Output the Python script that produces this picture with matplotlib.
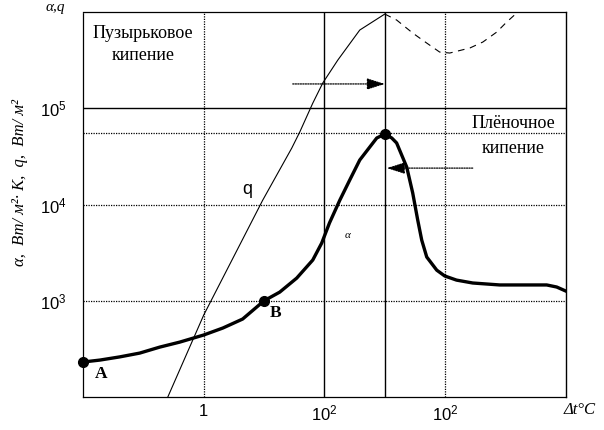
import matplotlib
matplotlib.use("Agg")
import matplotlib.pyplot as plt

# alpha curve (heat transfer coefficient)
alpha_dt = [0.1, 0.138, 0.201, 0.295, 0.432, 0.633, 1.0, 1.44, 2.10, 3.16, 4.26, 5.89,
            8.0, 9.49, 11.0, 13.4, 16.2, 19.6, 23.7, 27.1, 31.6, 36.1, 39.6, 48.0, 53.8,
            59.2, 63.9, 70.3, 85.1, 99.1, 124, 169, 283, 473, 693, 838, 1000]
alpha_val = [231, 242, 261, 286, 330, 372, 441, 521, 646, 1000, 1230, 1720,
             2650, 3980, 6430, 11100, 18000, 29000, 39500, 49100, 54000, 49100, 43600, 24500, 13200,
             6900, 4270, 2850, 2080, 1810, 1640, 1530, 1460, 1460, 1460, 1390, 1260]

# q curve, solid part (nucleate boiling)
q_dt = [0.504, 1.0, 3.08, 5.36, 6.24, 8.0, 9.68, 12.9, 19.6, 31.6]
q_val = [100, 711, 11100, 38600, 56600, 113000, 183000, 317000, 650000, 953000]

# q curve, dashed part (transition / film)
q2_dt = [31.6, 39.6, 53.8, 70.3, 89.9, 109, 160, 205, 267, 323, 391]
q2_val = [953000, 826000, 605000, 476000, 384000, 375000, 423000, 488000, 619000, 787000, 977000]

# marked points A, B and the crisis point
pts_dt = [0.1, 3.16, 31.6]
pts_val = [231, 1000, 54000]

xticks = [1, 10, 100]
xticklabels = ['1', r'$\mathregular{10^2}$', r'$\mathregular{10^2}$']
yticks = [1e3, 1e4, 1e5]
yticklabels = [r'$\mathregular{10^3}$', r'$\mathregular{10^4}$', r'$\mathregular{10^5}$']

plt.rcParams['font.family'] = ['Liberation Sans', 'DejaVu Sans']
serif = ['Liberation Serif', 'DejaVu Serif']

fig = plt.figure(figsize=(6.04, 4.30), dpi=100)
ax = fig.add_axes([0.1374, 0.0767, 0.937 - 0.1374, 0.972 - 0.0767])
ax.set_xscale('log')
ax.set_yscale('log')
ax.set_xlim(0.1, 1000)
ax.set_ylim(100, 1e6)

dots = (0, (1, 1))
for s in ['left', 'top', 'bottom']:
    ax.spines[s].set_linestyle(dots)
    ax.spines[s].set_linewidth(0.9)
ax.spines['right'].set_linewidth(1.0)

# grid
ax.axvline(1, color='k', lw=0.9, ls=dots)
ax.axvline(10, color='k', lw=1.0)
ax.axvline(31.6, color='k', lw=1.0)
ax.axvline(100, color='k', lw=0.9, ls=dots)
ax.axhline(1e3, color='k', lw=0.9, ls=dots)
ax.axhline(1e4, color='k', lw=0.9, ls=dots)
ax.axhline(1e5, color='k', lw=1.0)
ax.axhline(55300, color='k', lw=0.9, ls=dots)

ax.plot(q_dt, q_val, color='k', lw=0.8)
ax.plot(q2_dt, q2_val, color='k', lw=0.8, ls=(0, (6, 5)))
ax.plot(alpha_dt, alpha_val, color='k', lw=2.4, solid_joinstyle='round')
ax.plot(pts_dt, pts_val, 'o', color='k', ms=7, clip_on=False)

ax.set_xticks(xticks)
ax.set_xticklabels(xticklabels)
ax.set_yticks(yticks)
ax.set_yticklabels(yticklabels)
ax.minorticks_off()
ax.tick_params(length=0, labelsize=12)
ax.tick_params(axis='y', pad=12)
ax.tick_params(axis='x', pad=5)

# arrows
arrow = dict(arrowstyle='-|>,head_length=1.1,head_width=0.35', color='k', lw=0.9,
             shrinkA=0, shrinkB=0, linestyle=dots)
ax.annotate('', xy=(31.6, 179000), xytext=(5.46, 179000), arrowprops=arrow)
ax.annotate('', xy=(32.8, 23900), xytext=(169, 23900), arrowprops=arrow)

# texts
fig.text(143 / 604, 1 - 33 / 430, 'Пузырьковое', fontsize=13, family=serif, ha='center', va='center')
fig.text(143 / 604, 1 - 56 / 430, 'кипение', fontsize=13, family=serif, ha='center', va='center')
fig.text(513 / 604, 1 - 124 / 430, 'Плёночное', fontsize=13, family=serif, ha='center', va='center')
fig.text(513 / 604, 1 - 148 / 430, 'кипение', fontsize=13, family=serif, ha='center', va='center')
fig.text(247 / 604, 1 - 190 / 430, 'q', fontsize=13, ha='center', va='center')
fig.text(348 / 604, 1 - 235 / 430, 'α', fontsize=8, family=serif, style='italic', ha='center', va='center')
fig.text(101 / 604, 1 - 374 / 430, 'A', fontsize=12.5, family=serif, weight='bold', ha='center', va='center')
fig.text(276 / 604, 1 - 313 / 430, 'B', fontsize=12.5, family=serif, weight='bold', ha='center', va='center')
fig.text(55 / 604, 1 - 8 / 430, 'α,q', fontsize=11, family=serif, style='italic', ha='center', va='center')
fig.text(580 / 604, 1 - 410 / 430, 'Δt°C', fontsize=12, family=serif, style='italic', ha='center', va='center')
fig.text(20 / 604, 1 - 183 / 430, 'α,  Вт/ м²· К,  q,  Вт/ м²', fontsize=12, family=serif,
         style='italic', rotation=90, ha='center', va='center')

fig.savefig('out.png', dpi=100)
